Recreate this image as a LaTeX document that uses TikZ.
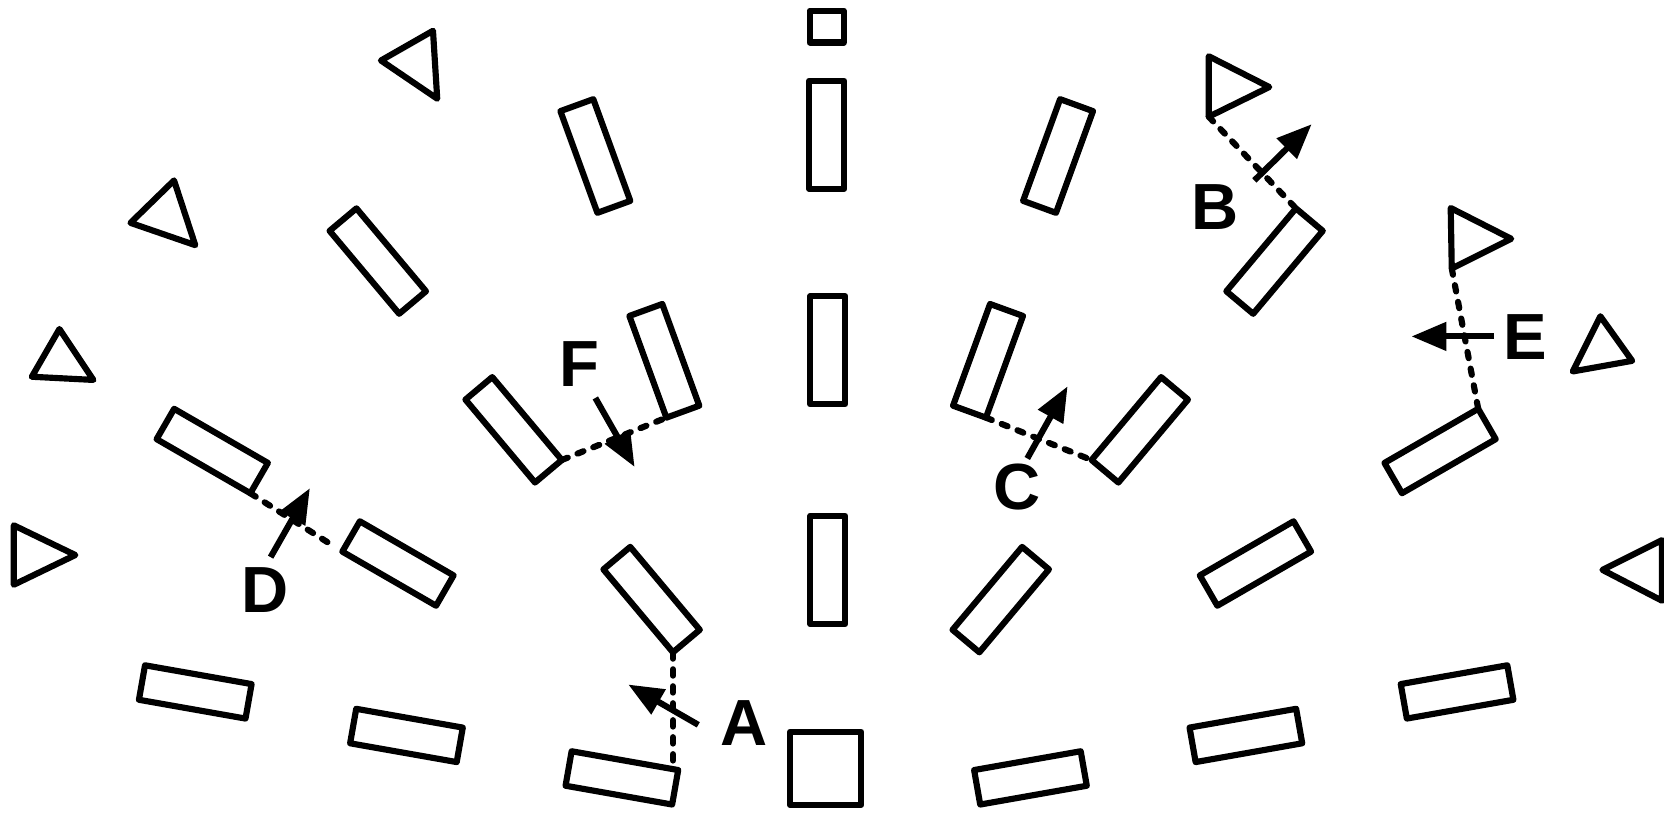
\documentclass[tikz,border=0pt]{standalone}
\usepackage{fontspec}
\setmainfont{Liberation Sans}
\usetikzlibrary{arrows.meta, positioning, calc}
\tikzset{
    panel/.style={draw, rectangle, inner sep=0pt, outer sep=0pt, minimum width=0.66cm, minimum height=2.04cm},
    block/.style={draw, rectangle, inner sep=0pt, outer sep=0pt},
    dotlink/.style={dash pattern=on 0.12cm off 0.2cm, line cap=round},
    push/.style={-{Triangle[length=0.66cm, width=0.52cm]}},
    letter/.style={font=\fontsize{35}{35}\selectfont\bfseries, inner sep=0pt},
}

\begin{document}
\begin{tikzpicture}[x=0.02cm, y=-0.02cm, line width=3.3pt, line join=round]
    \useasboundingbox (0,0) rectangle (1568,768);

    % centre column
    \node[block, minimum width=0.64cm, minimum height=0.6cm] (m0) at (779,25) {};
    \node[panel] (m1) at (779,127) {};
    \node[panel] (m2) at (780,330) {};
    \node[panel] (m3) at (780,537) {};
    \node[block, minimum width=1.34cm, minimum height=1.38cm] (m4) at (778,724) {};

    % left half
    \node[panel, rotate=20] (l1) at (561,147) {};
    \node[panel, rotate=20] (fR) at (626,340) {};
    \node[panel, rotate=40] (l2) at (356,246) {};
    \node[panel, rotate=40] (fL) at (484,405) {};
    \node[panel, rotate=40] (aT) at (614,565) {};
    \node[panel, rotate=60] (dL) at (200,425) {};
    \node[panel, rotate=60] (dR) at (375,531) {};
    \node[panel, rotate=80] (l3) at (184,652) {};
    \node[panel, rotate=80] (l4) at (383,693) {};
    \node[panel, rotate=80] (aB) at (586,733) {};

    % right half
    \node[panel, rotate=-20] (r1) at (997,147) {};
    \node[panel, rotate=-20] (cL) at (931,340) {};
    \node[panel, rotate=-40] (bR) at (1201,246) {};
    \node[panel, rotate=-40] (cR) at (1074,405) {};
    \node[panel, rotate=-40] (r2) at (943,565) {};
    \node[panel, rotate=-60] (eR) at (1357,425) {};
    \node[panel, rotate=-60] (r3) at (1183,531) {};
    \node[panel, rotate=-80] (r4) at (1373,652) {};
    \node[panel, rotate=-80] (r5) at (1174,693) {};
    \node[panel, rotate=-80] (r6) at (971,733) {};

    % triangles
    \coordinate (tB) at (1139,110);
    \coordinate (tE) at (1368,253);
    \draw (359,57) -- (408,29) -- (412,93) -- cycle;
    \draw (123,210) -- (164,170) -- (184,231) -- cycle;
    \draw (30,355) -- (56,310) -- (88,358) -- cycle;
    \draw (13,495) -- (71,523) -- (13,551) -- cycle;
    \draw (1139,53) -- (1196,82) -- (tB) -- cycle;
    \draw (1367,196) -- (1424,225) -- (tE) -- cycle;
    \draw (1482,350) -- (1508,298) -- (1538,340) -- cycle;
    \draw (1510,537) -- (1566,509) -- (1566,566) -- cycle;

    % dotted links
    \draw[dotlink] (aT.south west) -- (aT.south west |- aB.south east);
    \draw[dotlink] (tB) -- (bR.north west);
    \draw[dotlink] (cL.south east) -- (cR.south west);
    \draw[dotlink, shorten >=0.2cm] (dL.south west) -- (dR.north west);
    \draw[dotlink] (tE) -- (eR.north west);
    \draw[dotlink] (fL.south east) -- (fR.south west);

    % labels and moves
    \node[letter] (A) at (701,681) {A};
    \node[letter] (B) at (1145,195) {B};
    \node[letter] (C) at (958,459) {C};
    \node[letter] (D) at (250,556) {D};
    \node[letter] (E) at (1437,318) {E};
    \node[letter] (F) at (546,343) {F};

    \coordinate (a0) at (658,683); \coordinate (a1) at (592,645);
    \coordinate (b0) at (1182,170); \coordinate (b1) at (1236,117);
    \coordinate (c0) at (968,432); \coordinate (c1) at (1006,364);
    \coordinate (d0) at (255,525); \coordinate (d1) at (292,460);
    \coordinate (e0) at (1408,317); \coordinate (e1) at (1330,317);
    \coordinate (f0) at (561,375); \coordinate (f1) at (598,440);
    \draw[push] (a0) -- (a1);
    \draw[push] (b0) -- (b1);
    \draw[push] (c0) -- (c1);
    \draw[push] (d0) -- (d1);
    \draw[push] (e0) -- (e1);
    \draw[push] (f0) -- (f1);
\end{tikzpicture}
\end{document}
